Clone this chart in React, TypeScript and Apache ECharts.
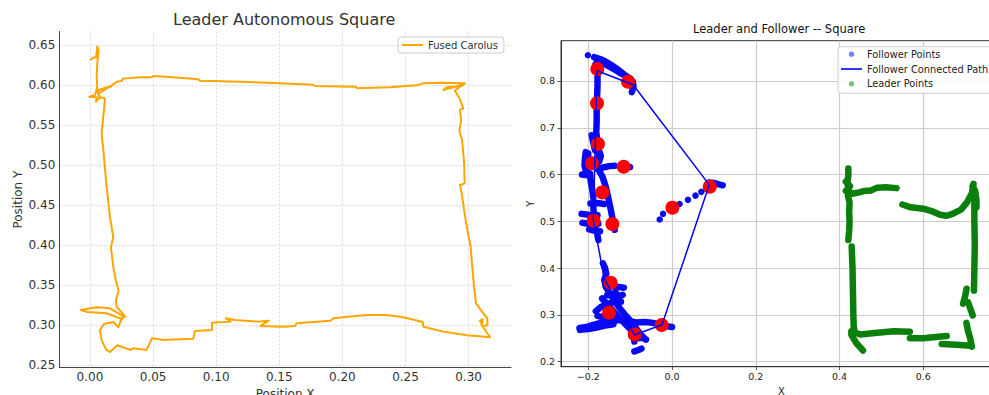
import React, { useEffect, useRef } from "react";
import * as echarts from "echarts";

const FONT = "DejaVu Sans";

// Left panel: fused trajectory (Position X, Position Y)
const fusedCarolus: [number, number][] = [
  [0.0, 0.6313], [0.0032, 0.6346], [0.0048, 0.6346], [0.0058, 0.6479], [0.0069, 0.6438],
  [0.0058, 0.6271], [0.0053, 0.6104], [0.0058, 0.5979], [0.004, 0.5875], [-0.0005, 0.5854],
  [0.0053, 0.5846], [0.0048, 0.5792], [0.0074, 0.5833], [0.0066, 0.5938], [0.0132, 0.5971],
  [0.0079, 0.5904], [0.0198, 0.6021], [0.0158, 0.5971], [0.0211, 0.6042], [0.0251, 0.605],
  [0.0259, 0.6079], [0.0291, 0.6083], [0.0396, 0.6096], [0.0489, 0.6096], [0.0502, 0.6113],
  [0.066, 0.6096], [0.0858, 0.6071], [0.0872, 0.6054], [0.1202, 0.6042], [0.1506, 0.6021],
  [0.177, 0.6004], [0.1783, 0.5988], [0.21, 0.5979], [0.2118, 0.5958], [0.2377, 0.5971],
  [0.2588, 0.5996], [0.2641, 0.6021], [0.2773, 0.6029], [0.2971, 0.6021], [0.2945, 0.5988],
  [0.2826, 0.5971], [0.28, 0.5938], [0.2879, 0.5971], [0.2958, 0.6013], [0.2892, 0.5929],
  [0.2932, 0.5821], [0.2958, 0.5708], [0.2932, 0.5688], [0.294, 0.5554], [0.2927, 0.5429],
  [0.2948, 0.5313], [0.2964, 0.5042], [0.2969, 0.4771], [0.2932, 0.475], [0.2948, 0.4625],
  [0.2964, 0.4438], [0.299, 0.4188], [0.3016, 0.3979], [0.3027, 0.3771], [0.3043, 0.3479],
  [0.3059, 0.3271], [0.3096, 0.3188], [0.3149, 0.3083], [0.3149, 0.3], [0.3111, 0.2979],
  [0.309, 0.3054], [0.3111, 0.3071], [0.3104, 0.3], [0.317, 0.2846], [0.3064, 0.2863],
  [0.2985, 0.2871], [0.28, 0.2917], [0.2641, 0.2979], [0.2636, 0.3038], [0.255, 0.3071],
  [0.2456, 0.3104], [0.2351, 0.3125], [0.2192, 0.3125], [0.1928, 0.3083], [0.1907, 0.3054],
  [0.1638, 0.3021], [0.1624, 0.2988], [0.1532, 0.2979], [0.1352, 0.2988], [0.1416, 0.3054],
  [0.1321, 0.3042], [0.1149, 0.3063], [0.1078, 0.3083], [0.1115, 0.3042], [0.0967, 0.3029],
  [0.0967, 0.2938], [0.0832, 0.2925], [0.0819, 0.2829], [0.0713, 0.2821], [0.0581, 0.2813],
  [0.0491, 0.2833], [0.0449, 0.2688], [0.0343, 0.2708], [0.0322, 0.2688], [0.0217, 0.2746],
  [0.0158, 0.2663], [0.0127, 0.2696], [0.0092, 0.2813], [0.0079, 0.2938], [0.0111, 0.3013],
  [0.0185, 0.3038], [0.0225, 0.2971], [0.0243, 0.3054], [0.0269, 0.3104], [0.0158, 0.3208],
  [0.0053, 0.3221], [-0.0074, 0.3188], [-0.0021, 0.3163], [0.0132, 0.3146], [0.0238, 0.3083],
  [0.028, 0.3104], [0.0211, 0.3229], [0.0206, 0.3313], [0.0227, 0.3429], [0.0201, 0.3583],
  [0.0185, 0.3729], [0.0166, 0.3971], [0.0185, 0.4096], [0.0158, 0.4354], [0.0132, 0.4729],
  [0.0106, 0.5188], [0.0092, 0.5396], [0.01, 0.5521], [0.0111, 0.5688], [0.0119, 0.5833],
  [0.0079, 0.5846], [0.0053, 0.5938],
];

// Right panel: follower point trails (dense point runs)
const followerStrokes: [number, number][][] = [
  [[-0.186, 0.851], [-0.172, 0.847], [-0.158, 0.841], [-0.145, 0.834], [-0.133, 0.827], [-0.122, 0.819], [-0.112, 0.812], [-0.101, 0.806], [-0.094, 0.799], [-0.092, 0.789], [-0.096, 0.776]],
  [[-0.18, 0.845], [-0.16, 0.836], [-0.14, 0.826], [-0.12, 0.815]],
  [[-0.183, 0.835], [-0.178, 0.815], [-0.178, 0.79], [-0.179, 0.765], [-0.18, 0.74], [-0.18, 0.715], [-0.181, 0.69], [-0.178, 0.672], [-0.176, 0.652], [-0.175, 0.636], [-0.179, 0.622]],
  [[-0.192, 0.684], [-0.188, 0.668], [-0.184, 0.652]],
  [[-0.174, 0.65], [-0.17, 0.64], [-0.174, 0.628]],
  [[-0.206, 0.648], [-0.208, 0.635], [-0.209, 0.62], [-0.206, 0.608], [-0.2, 0.603]],
  [[-0.2, 0.645], [-0.201, 0.625]],
  [[-0.215, 0.6], [-0.198, 0.598]],
  [[-0.178, 0.612], [-0.165, 0.615], [-0.15, 0.618], [-0.137, 0.619]],
  [[-0.174, 0.608], [-0.166, 0.595], [-0.159, 0.576], [-0.153, 0.553], [-0.147, 0.528], [-0.142, 0.505], [-0.137, 0.482]],
  [[-0.196, 0.602], [-0.194, 0.585], [-0.19, 0.565], [-0.188, 0.55]],
  [[-0.195, 0.538], [-0.178, 0.539], [-0.162, 0.537]],
  [[-0.216, 0.516], [-0.2, 0.514], [-0.178, 0.513]],
  [[-0.214, 0.497], [-0.196, 0.494], [-0.176, 0.495]],
  [[-0.198, 0.483], [-0.186, 0.48], [-0.172, 0.479]],
  [[-0.188, 0.53], [-0.186, 0.505], [-0.183, 0.488]],
  [[-0.178, 0.47], [-0.176, 0.46]],
  [[0.088, 0.583], [0.1, 0.582], [0.112, 0.579], [0.121, 0.577]],
  [[-0.165, 0.41], [-0.16, 0.4], [-0.157, 0.388], [-0.162, 0.375], [-0.158, 0.36]],
  [[-0.155, 0.363], [-0.14, 0.362], [-0.128, 0.36], [-0.115, 0.358]],
  [[-0.135, 0.35], [-0.13, 0.337], [-0.118, 0.343]],
  [[-0.155, 0.342], [-0.14, 0.343], [-0.125, 0.341]],
  [[-0.167, 0.335], [-0.15, 0.318], [-0.132, 0.3], [-0.115, 0.284], [-0.1, 0.27], [-0.093, 0.258]],
  [[-0.158, 0.36], [-0.145, 0.34], [-0.128, 0.318], [-0.112, 0.3], [-0.097, 0.285], [-0.085, 0.27], [-0.075, 0.258], [-0.066, 0.25]],
  [[-0.182, 0.308], [-0.17, 0.317], [-0.155, 0.323], [-0.138, 0.328], [-0.122, 0.328]],
  [[-0.178, 0.298], [-0.165, 0.295], [-0.15, 0.298], [-0.138, 0.302]],
  [[-0.221, 0.272], [-0.205, 0.274], [-0.19, 0.278], [-0.175, 0.282], [-0.16, 0.285], [-0.14, 0.288], [-0.12, 0.289], [-0.1, 0.286], [-0.085, 0.284], [-0.065, 0.285], [-0.045, 0.283], [-0.03, 0.279], [-0.015, 0.276], [0.0, 0.274]],
  [[-0.22, 0.268], [-0.2, 0.27], [-0.18, 0.273], [-0.16, 0.277], [-0.14, 0.28]],
  [[-0.098, 0.27], [-0.092, 0.255], [-0.082, 0.25], [-0.07, 0.251], [-0.062, 0.247]],
  [[-0.092, 0.262], [-0.09, 0.243]],
  [[-0.09, 0.222], [-0.08, 0.225], [-0.073, 0.228]],
];

// Right panel: isolated follower points
const followerDots: [number, number][] = [
  [-0.201, 0.855], [-0.0295, 0.504], [-0.0215, 0.516], [0.018, 0.537], [0.038, 0.546],
  [0.056, 0.555], [0.07, 0.563], [0.082, 0.57], [-0.1, 0.616],
];

// Right panel: connected follower path
const followerPath: [number, number][] = [
  [-0.179, 0.822], [-0.093, 0.792], [0.089, 0.578], [-0.024, 0.279], [-0.09, 0.257],
  [-0.162, 0.378], [-0.188, 0.503], [-0.179, 0.822],
];

// Right panel: highlighted follower waypoints
const waypoints: [number, number][] = [
  [-0.1785, 0.8257], [-0.1052, 0.7986], [-0.1793, 0.7522], [-0.1769, 0.6653], [-0.1912, 0.624],
  [-0.1155, 0.6168], [-0.1665, 0.5619], [-0.1873, 0.5014], [-0.1426, 0.4942], [-0.1466, 0.3688],
  [-0.1506, 0.3046], [-0.0892, 0.2583], [-0.0247, 0.2783], [0.0008, 0.5292], [0.09, 0.5741],
];

// Right panel: leader point trails
const leaderStrokes: [number, number][][] = [
  [[0.421, 0.613], [0.421, 0.598], [0.419, 0.585], [0.421, 0.57], [0.42, 0.555], [0.424, 0.54], [0.423, 0.52], [0.424, 0.5], [0.423, 0.48], [0.421, 0.46]],
  [[0.415, 0.585], [0.425, 0.575], [0.415, 0.565], [0.43, 0.56]],
  [[0.43, 0.559], [0.447, 0.562], [0.46, 0.565], [0.475, 0.566], [0.49, 0.572], [0.51, 0.573], [0.536, 0.571]],
  [[0.429, 0.446], [0.431, 0.4], [0.432, 0.35], [0.433, 0.3], [0.434, 0.272]],
  [[0.428, 0.265], [0.45, 0.258], [0.49, 0.262], [0.53, 0.265], [0.568, 0.264]],
  [[0.435, 0.27], [0.428, 0.258], [0.44, 0.24], [0.456, 0.224]],
  [[0.568, 0.25], [0.6, 0.25], [0.63, 0.253], [0.656, 0.255]],
  [[0.644, 0.238], [0.68, 0.236], [0.712, 0.234]],
  [[0.55, 0.536], [0.57, 0.53], [0.6, 0.527], [0.62, 0.522], [0.64, 0.514], [0.656, 0.512], [0.67, 0.516], [0.69, 0.525], [0.704, 0.54], [0.716, 0.56], [0.72, 0.58]],
  [[0.718, 0.575], [0.724, 0.565], [0.727, 0.545], [0.727, 0.53]],
  [[0.722, 0.545], [0.722, 0.5], [0.723, 0.45], [0.722, 0.4], [0.721, 0.352]],
  [[0.7034, 0.356], [0.7, 0.34], [0.695, 0.324]],
  [[0.707, 0.327], [0.713, 0.312], [0.718, 0.299]],
  [[0.703, 0.283], [0.707, 0.265], [0.712, 0.25], [0.716, 0.232]],
];

const leftTitle = "Leader Autonomous Square";
const rightTitle = "Leader and Follower -- Square";

const fmtSigned1 = (v: number) => {
  const s = Math.abs(v).toFixed(1);
  return v < -1e-9 ? "\u2212" + s : s;
};

export default function App() {
  const ref = useRef<HTMLDivElement>(null);
  useEffect(() => {
    if (!ref.current) return;
    const chart = echarts.init(ref.current, undefined, { renderer: "svg" });
    const blue = "#0a0af2";
    const green = "#0b7f0b";
    const series: any[] = [];
    series.push({
      type: "line", name: "Fused Carolus", xAxisIndex: 0, yAxisIndex: 0,
      data: fusedCarolus, symbol: "none",
      lineStyle: { color: "#ffa500", width: 2, join: "round" },
      itemStyle: { color: "#ffa500" }, z: 3,
    });
    followerStrokes.forEach((s) =>
      series.push({
        type: "line", name: "Follower Points", xAxisIndex: 1, yAxisIndex: 1,
        data: s, symbol: "none",
        lineStyle: { color: blue, width: 6.5, cap: "round", join: "round" },
        itemStyle: { color: blue }, z: 2,
      })
    );
    series.push({
      type: "scatter", name: "Follower Points", xAxisIndex: 1, yAxisIndex: 1,
      data: followerDots, symbolSize: 6.5, itemStyle: { color: blue, opacity: 1 }, z: 2,
    });
    leaderStrokes.forEach((s) =>
      series.push({
        type: "line", name: "Leader Points", xAxisIndex: 1, yAxisIndex: 1,
        data: s, symbol: "none",
        lineStyle: { color: green, width: 6.5, cap: "round", join: "round" },
        itemStyle: { color: green }, z: 2,
      })
    );
    series.push({
      type: "scatter", name: "Waypoints", xAxisIndex: 1, yAxisIndex: 1,
      data: waypoints, symbolSize: 14, itemStyle: { color: "#ff0000", opacity: 1 }, z: 4,
    });
    series.push({
      type: "line", name: "Follower Connected Path", xAxisIndex: 1, yAxisIndex: 1,
      data: followerPath, symbol: "none",
      lineStyle: { color: "#0000ff", width: 1.5 },
      itemStyle: { color: "#0000ff" }, z: 5,
    });

    chart.setOption({
      animation: false,
      textStyle: { fontFamily: FONT },
      title: [
        {
          text: leftTitle, left: 173, top: 11, textAlign: "left", padding: 0,
          textStyle: { fontSize: 16, fontWeight: "normal", color: "#333", fontFamily: FONT },
        },
        {
          text: rightTitle, left: 693, top: 23, textAlign: "left", padding: 0,
          textStyle: { fontSize: 11.5, fontWeight: "normal", color: "#111", fontFamily: FONT },
        },
      ],
      legend: [
        {
          data: [{ name: "Fused Carolus", icon: "path://M0,0H21V2H0Z" }],
          left: 398, top: 37, orient: "vertical", padding: [3, 6, 3, 4],
          itemWidth: 21, itemHeight: 10, selectedMode: false,
          itemStyle: { borderWidth: 0 },
          borderColor: "#cccccc", borderWidth: 1, borderRadius: 3, backgroundColor: "#ffffff",
          textStyle: { fontSize: 10, color: "#333", fontFamily: FONT },
        },
        {
          data: [
            { name: "Follower Points", icon: "circle", itemStyle: { color: "rgba(0,0,255,0.5)", borderWidth: 0 } },
            { name: "Follower Connected Path", icon: "path://M0,0H21V1.6H0Z", itemStyle: { color: "#0000ff", borderWidth: 0 } },
            { name: "Leader Points", icon: "circle", itemStyle: { color: "rgba(0,128,0,0.5)", borderWidth: 0 } },
          ],
          left: 838, top: 46.7, orient: "vertical", padding: [2, 30, 4, 3],
          itemWidth: 21, itemHeight: 5.5, itemGap: 3.8, selectedMode: false,
          itemStyle: { borderWidth: 0 },
          borderColor: "#d0d0d0", borderWidth: 1, borderRadius: 3, backgroundColor: "rgba(255,255,255,0.85)",
          textStyle: { fontSize: 9.8, lineHeight: 11, color: "#222", fontFamily: FONT },
        },
      ],
      grid: [
        { left: 59.3, top: 31.5, width: 451.7, height: 336.2, show: false, outerBoundsMode: "none", containLabel: false },
        { left: 561, top: 40.7, width: 441, height: 326, show: true, borderColor: "#333", borderWidth: 1, backgroundColor: "transparent", outerBoundsMode: "none", containLabel: false },
      ],
      xAxis: [
        {
          gridIndex: 0, type: "value", min: -0.0243, max: 0.3336, splitNumber: 7,
          axisLine: { show: true, onZero: false, lineStyle: { color: "#444", width: 1 } },
          axisTick: { show: false },
          axisLabel: { fontSize: 12, color: "#333", margin: 3, fontFamily: FONT, showMinLabel: false, showMaxLabel: false, formatter: (v: number) => v.toFixed(2) },
          splitLine: { show: true, showMinLine: false, showMaxLine: false, lineStyle: { color: "#d8d8d8", type: [2, 2], width: 1 } },
          name: "Position X", nameLocation: "middle", nameGap: 19,
          nameTextStyle: { fontSize: 12, color: "#333", fontFamily: FONT },
        },
        {
          gridIndex: 1, type: "value", min: -0.2652, max: 0.788, splitNumber: 5,
          axisLine: { show: true, onZero: false, lineStyle: { color: "#333", width: 1 } },
          axisTick: { show: true, length: 3.5, lineStyle: { color: "#333", width: 0.8 } },
          axisLabel: { fontSize: 9.5, color: "#222", margin: 5, fontFamily: FONT, showMinLabel: false, showMaxLabel: false, formatter: fmtSigned1 },
          splitLine: { show: true, showMinLine: false, showMaxLine: false, lineStyle: { color: "#cccccc", width: 1.2 } },
          name: "X", nameLocation: "middle", nameGap: 19,
          nameTextStyle: { fontSize: 10, color: "#222", fontFamily: FONT },
        },
      ],
      yAxis: [
        {
          gridIndex: 0, type: "value", min: 0.2466, max: 0.6669, splitNumber: 8,
          axisLine: { show: true, onZero: false, lineStyle: { color: "#444", width: 1 } },
          axisTick: { show: false },
          axisLabel: { fontSize: 12, color: "#333", margin: 4, fontFamily: FONT, showMinLabel: false, showMaxLabel: false, formatter: (v: number) => v.toFixed(2) },
          splitLine: { show: true, showMinLine: false, showMaxLine: false, lineStyle: { color: "#d8d8d8", type: [2, 2], width: 1 } },
          name: "Position Y", nameLocation: "middle", nameGap: 35,
          nameTextStyle: { fontSize: 12, color: "#333", fontFamily: FONT },
        },
        {
          gridIndex: 1, type: "value", min: 0.1893, max: 0.8861, splitNumber: 7,
          axisLine: { show: true, onZero: false, lineStyle: { color: "#333", width: 1 } },
          axisTick: { show: true, length: 3.5, lineStyle: { color: "#333", width: 0.8 } },
          axisLabel: { fontSize: 9.5, color: "#222", margin: 6, fontFamily: FONT, showMinLabel: false, showMaxLabel: false, formatter: (v: number) => v.toFixed(1) },
          splitLine: { show: true, showMinLine: false, showMaxLine: false, lineStyle: { color: "#cccccc", width: 1.2 } },
          name: "Y", nameLocation: "middle", nameGap: 26,
          nameTextStyle: { fontSize: 10, color: "#222", fontFamily: FONT },
        },
      ],
      series,
    });
    return () => chart.dispose();
  }, []);
  return (
    <div
      ref={ref}
      style={{ position: "fixed", left: 0, top: 0, width: 989, height: 395, background: "#fff" }}
    />
  );
}
